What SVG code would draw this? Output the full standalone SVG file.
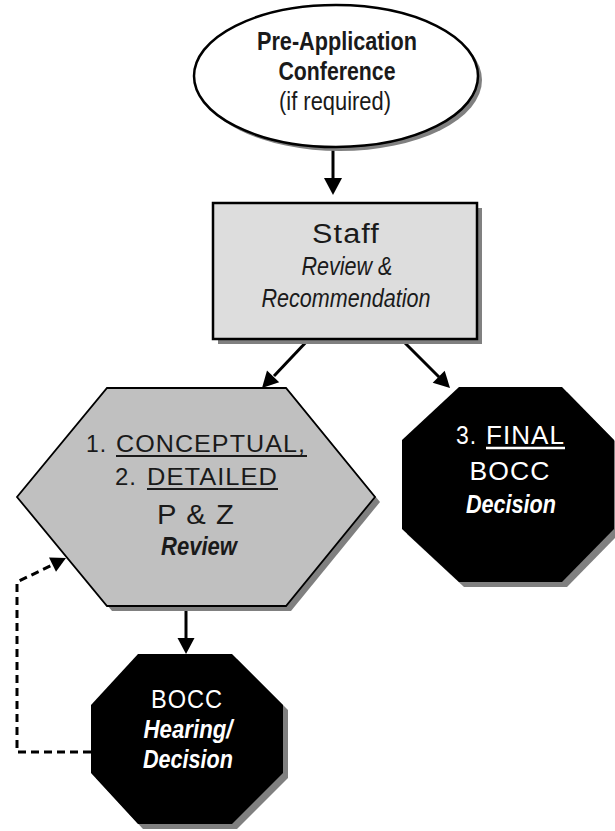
<svg xmlns="http://www.w3.org/2000/svg" width="615" height="831" viewBox="0 0 615 831">
<style>
.wide{font-family:"Liberation Sans",Arial,sans-serif;fill:#1a1a1a;letter-spacing:1px}
.nar{font-family:"Liberation Sans Narrow","Arial Narrow","Liberation Sans",sans-serif;font-stretch:condensed;fill:#1a1a1a}
.w{fill:#fff}
.shadow{fill:#808080;stroke:none}
.conn{stroke:#000;stroke-width:3;fill:none}
.head{fill:#000;stroke:none}
.ul{stroke:#1a1a1a;stroke-width:2}
</style>
<rect width="615" height="831" fill="#fff"/>
<g id="connectors">
  <line class="conn" x1="333" y1="147" x2="333" y2="179"/>
  <polygon class="head" points="324,178 342,178 333,195"/>
  <line class="conn" x1="309" y1="339" x2="274" y2="376"/>
  <polygon class="head" points="279.2,382.3 267,370.5 262,388"/>
  <line class="conn" x1="401" y1="339" x2="439" y2="377"/>
  <polygon class="head" points="444.7,370.7 432.7,382.7 450,388"/>
  <line class="conn" x1="186" y1="606" x2="186" y2="639"/>
  <polygon class="head" points="177.5,638 194.5,638 186,654"/>
  <polyline class="conn" stroke-dasharray="8,5" points="91,752 17,752 17,582 53,564.6"/>
  <polygon class="head" points="56,571.8 49,557.4 66,558"/>
</g>
<g id="preapp">
  <ellipse class="shadow" cx="340" cy="80" rx="142" ry="71"/>
  <ellipse cx="336" cy="76" rx="142" ry="71" fill="#fff" stroke="#000" stroke-width="2.5"/>
  <text class="nar" font-weight="bold" font-size="25" x="337" y="50" text-anchor="middle" textLength="160" lengthAdjust="spacingAndGlyphs">Pre-Application</text>
  <text class="nar" font-weight="bold" font-size="25" x="337" y="80" text-anchor="middle" textLength="117" lengthAdjust="spacingAndGlyphs">Conference</text>
  <text class="nar" font-size="25" x="335" y="110" text-anchor="middle" textLength="112" lengthAdjust="spacingAndGlyphs">(if required)</text>
</g>
<g id="staff">
  <rect class="shadow" x="218" y="208" width="264" height="136"/>
  <rect x="213" y="203" width="264" height="136" fill="#dddddd" stroke="#000" stroke-width="2.5"/>
  <text class="wide" font-size="27" x="346" y="243" text-anchor="middle" textLength="68" lengthAdjust="spacingAndGlyphs">Staff</text>
  <text class="nar" font-style="italic" font-size="26" x="347" y="275" text-anchor="middle" textLength="91" lengthAdjust="spacingAndGlyphs">Review &amp;</text>
  <text class="nar" font-style="italic" font-size="26" x="346" y="307" text-anchor="middle" textLength="169" lengthAdjust="spacingAndGlyphs">Recommendation</text>
</g>
<g id="pz">
  <polygon class="shadow" points="112,393 291,393 380,502 291,611 112,611 22,502"/>
  <polygon points="107,388 286,388 375,497 286,606 107,606 17,497" fill="#c0c0c0" stroke="#000" stroke-width="1.8"/>
  <text class="wide" font-size="24" x="86" y="452" textLength="21" lengthAdjust="spacingAndGlyphs">1.</text>
  <text class="wide" font-size="24" x="116" y="452" textLength="190" lengthAdjust="spacingAndGlyphs">CONCEPTUAL,</text>
  <line class="ul" x1="116" y1="456" x2="307" y2="456"/>
  <text class="wide" font-size="24" x="115" y="485" textLength="22" lengthAdjust="spacingAndGlyphs">2.</text>
  <text class="wide" font-size="24" x="147" y="485" textLength="131" lengthAdjust="spacingAndGlyphs">DETAILED</text>
  <line class="ul" x1="147" y1="489" x2="278" y2="489"/>
  <text class="wide" font-size="27" x="196" y="524" text-anchor="middle" textLength="78" lengthAdjust="spacingAndGlyphs">P &amp; Z</text>
  <text class="nar" font-style="italic" font-weight="bold" font-size="26" x="199" y="555" text-anchor="middle" textLength="76" lengthAdjust="spacingAndGlyphs">Review</text>
</g>
<g id="final">
  <polygon class="shadow" points="464,392 567,392 619,445 619,534 567,587 464,587 407,534 407,445"/>
  <polygon points="459,387 562,387 614,440 614,529 562,582 459,582 402,529 402,440" fill="#000"/>
  <text class="wide w" font-size="25" x="456" y="444" textLength="21" lengthAdjust="spacingAndGlyphs">3.</text>
  <text class="wide w" font-size="25" x="486" y="444" textLength="79" lengthAdjust="spacingAndGlyphs">FINAL</text>
  <line stroke="#fff" stroke-width="2.5" x1="486" y1="448" x2="565" y2="448"/>
  <text class="wide w" font-size="25" x="510" y="480" text-anchor="middle" textLength="81" lengthAdjust="spacingAndGlyphs">BOCC</text>
  <text class="nar w" font-style="italic" font-weight="bold" font-size="26" x="511" y="513" text-anchor="middle" textLength="90" lengthAdjust="spacingAndGlyphs">Decision</text>
</g>
<g id="hearing">
  <polygon class="shadow" points="143,659 237,659 288,710 288,778 237,829 143,829 96,778 96,710"/>
  <polygon points="138,654 232,654 283,705 283,773 232,824 138,824 91,773 91,705" fill="#000"/>
  <text class="wide w" font-size="25" x="187" y="708" text-anchor="middle" textLength="72" lengthAdjust="spacingAndGlyphs">BOCC</text>
  <text class="nar w" font-style="italic" font-weight="bold" font-size="26" x="188" y="738" text-anchor="middle" textLength="89" lengthAdjust="spacingAndGlyphs">Hearing/</text>
  <text class="nar w" font-style="italic" font-weight="bold" font-size="26" x="188" y="768" text-anchor="middle" textLength="90" lengthAdjust="spacingAndGlyphs">Decision</text>
</g>
</svg>
